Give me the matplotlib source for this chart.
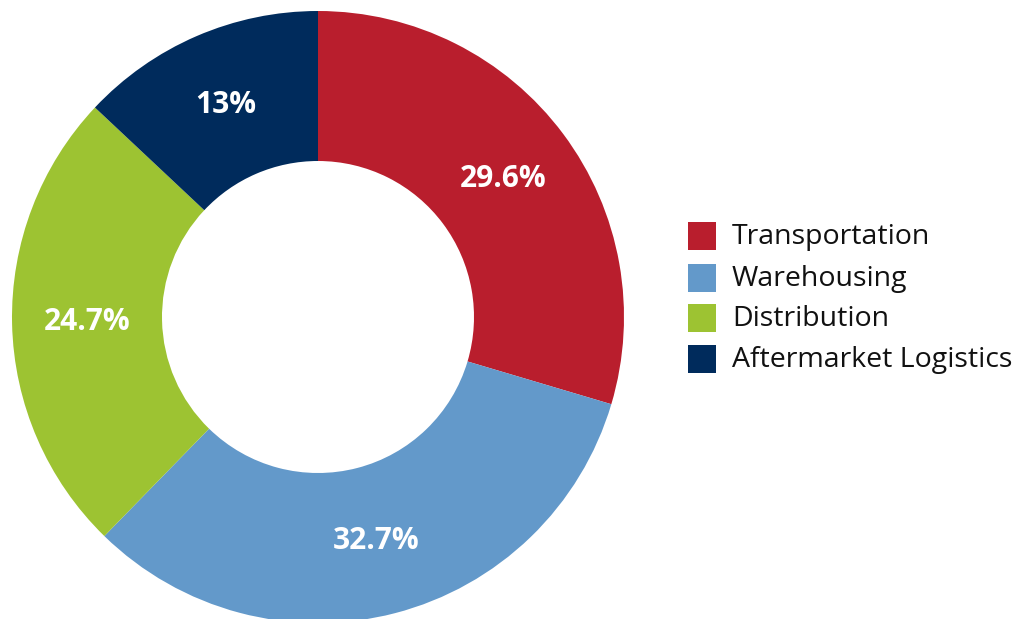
import numpy as np
import matplotlib
matplotlib.use("Agg")
import matplotlib.pyplot as plt
from matplotlib.patches import Rectangle

categories = ["Transportation", "Warehousing", "Distribution", "Aftermarket Logistics"]
values = [29.6, 32.7, 24.7, 13.0]
pct_labels = ["29.6%", "32.7%", "24.7%", "13%"]
colors = ["#B91E2D", "#6399CA", "#9DC332", "#002B5C"]

W, H = 1016, 619
fig = plt.figure(figsize=(W / 100, H / 100), dpi=100)
cx, cy, R = 318, 317, 306
ax = fig.add_axes([(cx - R) / W, (H - cy - R) / H, 2 * R / W, 2 * R / H])
wedges, _ = ax.pie(values, colors=colors, startangle=90, counterclock=False,
                   radius=1.0, wedgeprops=dict(width=150 / 306, linewidth=0))
ax.set_xlim(-1, 1)
ax.set_ylim(-1, 1)
ax.set_aspect("equal")
ax.axis("off")

lab_r = 0.755
for w, lab in zip(wedges, pct_labels):
    ang = np.deg2rad((w.theta1 + w.theta2) / 2)
    ax.text(lab_r * np.cos(ang), lab_r * np.sin(ang), lab, color="white",
            fontsize=21.5, fontweight="bold", family="Open Sans",
            ha="center", va="center")

# legend
x0 = 688
ys = [236, 278, 318, 359]
for y, c, name in zip(ys, colors, categories):
    fig.add_artist(Rectangle(((x0) / W, (H - y - 14) / H), 28 / W, 28 / H,
                             transform=fig.transFigure, color=c, lw=0))
    fig.text(732 / W, (H - y - 1) / H, name, fontsize=20.5, family="Open Sans",
             color="#111111", ha="left", va="center")

fig.savefig("out.png", dpi=100)
